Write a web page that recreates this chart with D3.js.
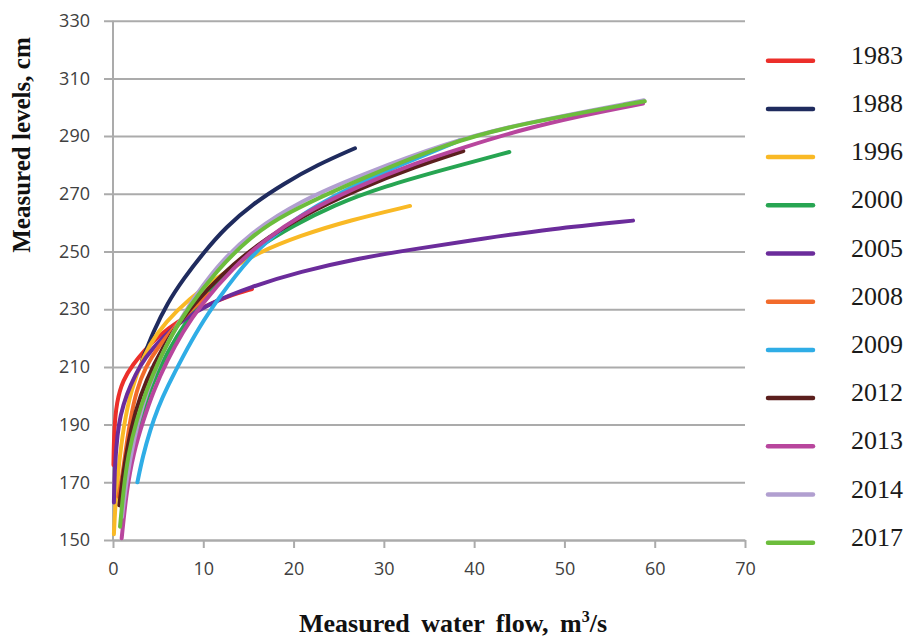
<!DOCTYPE html>
<html>
<head>
<meta charset="utf-8">
<script src="https://cdn.jsdelivr.net/npm/d3@7"></script>
<style>
  html, body { margin: 0; padding: 0; background: #fff; }
  svg { display: block; }
</style>
</head>
<body>
<div id="container"></div>
<script>
// rating curves, [flow m3/s, level cm]
const years = ['1983', '1988', '1996', '2000', '2005', '2008', '2009', '2012', '2013', '2014', '2017'];
const colors = ['#ec2f2a', '#1f2b5e', '#f9b925', '#27a552', '#6b2c9b', '#f26b2b', '#2fade6', '#5b1f1d', '#b8469d', '#b19fd0', '#6cbd3c'];

const q1983 = [[0.05,176],[0.12,188],[0.4,198],[1.1,205.5],[2.25,211],[3.4,215.5],[5,220.5],[7,225.5],[10.4,231.5],[12.8,234.5],[15.4,237]];
const q1988 = [[3.2,212],[4.5,222.5],[6,232],[7.8,240.5],[10,249.5],[12.5,258.5],[15.5,266.5],[18.9,273.5],[22.6,280],[26.8,285.8]];
const q1996 = [[0.1,152],[0.25,162],[0.6,175],[1.2,190],[2,202],[3.4,214],[4.8,221.5],[7,229.5],[10,237.5],[13,244],[16,249.5],[20.7,255.5],[26.2,260.8],[32.9,265.8]];
const q2000 = [[1.0,158],[1.6,172],[2.5,186],[3.6,198],[5,209],[7,220.5],[9.5,232],[12.5,242.5],[16,251.5],[20,259],[24.4,266],[29.9,272.5],[37.3,279],[43.9,284.5]];
const q2005 = [[0.1,163],[0.2,176],[0.5,187],[0.8,193],[1.5,200.5],[2.5,207.5],[3.5,213],[5.5,220.5],[7.8,226.5],[10.7,232],[15.2,237.7],[20.7,243],[27.4,247.8],[33.3,250.8],[41,254.5],[48.4,257.8],[57.6,260.7]];
const q2008 = [[0.6,165],[0.9,170],[1.15,175],[1.5,183],[1.9,191.5],[2.6,202],[3.6,210],[5,217],[7,224.5],[8.5,229.5],[10.7,235.4]];
const q2009 = [[2.7,170],[3.3,179],[4.1,188],[5,196],[6,203],[7.8,214],[9.6,224],[11.5,233],[15.2,248.5],[18.9,258.5],[22.6,266],[27,273.5],[33,281.5],[38.4,288.5]];
const q2012 = [[0.7,162],[1.2,175],[2,189],[3,200],[4.5,211],[6.5,222],[9,232],[12,242],[16,252.5],[20.7,262],[27.4,272],[33.6,279.5],[38.8,284.8]];
const q2013 = [[0.96,150.6],[1.5,167],[2.25,180],[3.36,191.5],[4.46,201.5],[5.95,212],[7.8,222.5],[9.6,231],[13.3,244.5],[17,254.5],[20.7,262.5],[27,272.5],[33.6,280.8],[38.8,286],[44.7,291.8],[52.1,297.3],[58.7,301.3]];
const q2014 = [[1.0,158],[1.5,171],[2.3,185],[3.3,197],[4.6,208.5],[6.2,219.5],[8.3,231],[11.5,245],[15.2,256.5],[20.7,267.5],[27.4,276.5],[37.3,288],[44.7,294],[58.8,302.4]];
const q2017 = [[0.78,154.6],[1.14,167],[1.7,180],[2.6,191.5],[3.7,202],[5.2,213],[6.5,221],[8.2,230],[11.5,243.5],[15.2,255],[18.9,263],[27.4,275.2],[37.3,287.8],[44.7,294],[58.9,302.1]];

const series = [q1983, q1988, q1996, q2000, q2005, q2008, q2009, q2012, q2013, q2014, q2017];

const xTicks = [0, 10, 20, 30, 40, 50, 60, 70];
const yTicks = [150, 170, 190, 210, 230, 250, 270, 290, 310, 330];

// canvas
const width = 908;
const height = 638;

const svg = d3.select('#container')
  .append('svg')
  .attr('width', width)
  .attr('height', height);

// scales
const xScale = d3.scaleLinear().domain([0, 70]).range([113, 745]);
const yScale = d3.scaleLinear().domain([150, 330]).range([540, 20.7]);

const gridColor = '#ababab';
const labelFont = "'Open Sans', sans-serif";

// horizontal grid lines (with left tick stubs)
const yAxis = d3.axisLeft(yScale)
  .tickValues(yTicks)
  .tickSize(-(745 - 113))
  .tickPadding(23)
  .tickFormat(d3.format('d'));

const gy = svg.append('g')
  .attr('transform', 'translate(113,0)')
  .call(yAxis);
gy.select('.domain').remove();
gy.selectAll('.tick line')
  .attr('x1', -9)
  .attr('stroke', gridColor)
  .attr('stroke-width', 2);
gy.selectAll('.tick text')
  .attr('fill', '#404040')
  .style('font-family', labelFont)
  .style('font-size', '18px');

// vertical axis line
svg.append('line')
  .attr('x1', xScale(0)).attr('x2', xScale(0))
  .attr('y1', yScale(330)).attr('y2', yScale(150))
  .attr('stroke', gridColor)
  .attr('stroke-width', 2);

// bottom axis
const xAxis = d3.axisBottom(xScale)
  .tickValues(xTicks)
  .tickSize(8)
  .tickSizeOuter(0)
  .tickPadding(14)
  .tickFormat(d3.format('d'));

const gx = svg.append('g')
  .attr('transform', `translate(0,${yScale(150)})`)
  .call(xAxis);
gx.select('.domain').attr('stroke', gridColor).attr('stroke-width', 2);
gx.selectAll('.tick line').attr('stroke', gridColor).attr('stroke-width', 2);
gx.selectAll('.tick text')
  .attr('fill', '#404040')
  .style('font-family', labelFont)
  .style('font-size', '18px');

// curves
const line = d3.line()
  .x(d => xScale(d[0]))
  .y(d => yScale(d[1]))
  .curve(d3.curveBasis);

svg.append('g')
  .selectAll('path')
  .data(series)
  .join('path')
  .attr('d', line)
  .attr('fill', 'none')
  .attr('stroke', (d, i) => colors[i])
  .attr('stroke-width', 4)
  .attr('stroke-linecap', 'round')
  .attr('stroke-linejoin', 'round');

// legend
const legend = svg.append('g');
const rowY = i => 60.7 + i * 48.2;

legend.selectAll('line')
  .data(years)
  .join('line')
  .attr('x1', 768).attr('x2', 813)
  .attr('y1', (d, i) => rowY(i)).attr('y2', (d, i) => rowY(i))
  .attr('stroke', (d, i) => colors[i])
  .attr('stroke-width', 4.5)
  .attr('stroke-linecap', 'round');

legend.selectAll('text')
  .data(years)
  .join('text')
  .attr('x', 851)
  .attr('y', (d, i) => rowY(i) + 3)
  .attr('fill', '#1a1a1a')
  .style('font-family', "'Liberation Serif', 'Times New Roman', serif")
  .style('font-size', '26px')
  .text(d => d);

// axis titles
const titleFont = "'Liberation Serif', 'Times New Roman', serif";

svg.append('text')
  .attr('transform', 'translate(30,145) rotate(-90)')
  .attr('text-anchor', 'middle')
  .attr('fill', '#111')
  .style('font-family', titleFont)
  .style('font-weight', 'bold')
  .style('font-size', '25px')
  .text('Measured levels, cm');

const xTitle = svg.append('text')
  .attr('x', 453)
  .attr('y', 632)
  .attr('text-anchor', 'middle')
  .attr('fill', '#111')
  .style('font-family', titleFont)
  .style('font-weight', 'bold')
  .style('font-size', '26px')
  .style('word-spacing', '5px');
xTitle.append('tspan').text('Measured water flow, m');
xTitle.append('tspan').attr('dy', -10).style('font-size', '16px').text('3');
xTitle.append('tspan').attr('dy', 10).text('/s');
</script>
</body>
</html>
